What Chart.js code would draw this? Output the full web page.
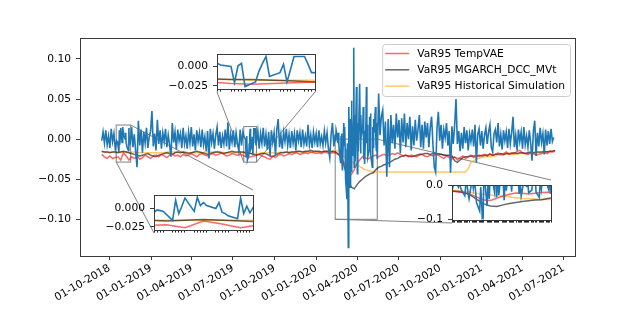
<!DOCTYPE html>
<html>
<head>
<meta charset="utf-8">
<title>VaR95 backtest</title>
<script src="https://cdn.jsdelivr.net/npm/chart.js@4.4.0/dist/chart.umd.min.js"></script>
<style>
  html, body { margin: 0; padding: 0; background: #fff; }
  #wrap { position: relative; width: 640px; height: 320px; overflow: hidden; }
  #wrap canvas { position: absolute; }
</style>
</head>
<body>
<div id="wrap">
  <canvas id="mainChart" width="640" height="320" style="left:0;top:0"></canvas>
</div>
<script>
// ==============================================================================
// 1. DATA (returns and VaR levels are in units of 1/1000)
// ==============================================================================
const retStart = '2018-09-14';
const retStepDays = 3;
const returns = [
  -2, 9, -5, 11, -7, 4, -11, 13, -3, 7,
  -12, 2, -14, 11, 5, -9, 14, -4, 8, -13,
  10, -6, 15, -10, 6, -15, -35, 23, -8, 12,
  -17, 9, -5, 14, -11, 3, 10, 35, -9, 7,
  -14, 24, -6, 11, -12, 8, -3, 13, -10, 5,
  -7, -22, 20, -4, 9, -13, 12, -2, 7, -11,
  14, -6, 4, -12, 9, -5, 15, -9, 6, -14,
  11, -3, 8, -10, 12, -7, 3, -15, 10, -24,
  13, -4, 7, -12, 5, 15, -8, 9, -11, 4,
  -6, 12, -9, 21, -13, 6, -4, 11, -10, 8,
  -5, -15, 12, -8, 9, 2, -20, 4, -26, -6,
  13, -8, -20, 13, -8, 10, -12, 7, -5, 14,
  -9, 6, -13, 9, -21, 11, -4, 8, -20, 12,
  25, -10, 5, -12, 9, -3, 13, -8, 6, -11,
  10, -5, 7, -14, 11, -2, 8, -10, 12, -6,
  4, -9, 18, -7, 5, -11, 9, -4, 7, -10,
  11, -6, 3, -8, 10, -5, 8, -12, -23, 6,
  20, -9, 10, -14, 7, -39, 20, -75, -135, 40,
  -60, 48, 114, -35, 65, -43, 69, -18, 40, -31,
  65, -14, 32, -35, 40, -14, 30, -20, 25, -30,
  35, -10, 20, -25, 57, 5, 28, 36, -8, 22,
  -47, 25, -35, 30, -5, 18, -12, 32, 2, 24,
  -18, 26, -4, 32, -10, 20, 0, 28, -14, 16,
  -8, 24, -2, 12, 30, -10, 18, -12, 22, 2,
  20, -10, 14, 28, -6, -35, -41, 14, 34, -2,
  18, -12, 12, 2, 20, -8, 10, -42, 16, -6,
  18, 50, -6, 10, -15, 8, -12, 15, -5, 11,
  -14, 7, -3, 12, -9, 18, -29, 6, 13, -8,
  10, -12, 5, 14, -6, 9, 18, -10, -16, 7,
  12, -4, 20, -9, 6, -13, 11, -2, 9, -11,
  13, -6, 8, 28, -10, 5, -14, 12, -3, 9,
  -12, 15, -7, 4, -10, 11, -5, -27, 10, 23,
  -21, 8, -9, 14, -4, 7, -19, 12, -8, 10,
  -6, 13, -3, 2
];

// daily (business day) returns inside the three zoomed windows
const zoomAStart = '2018-10-17';
const zoomAReturns = [-2, -3, -4, -16, 11, -7, 3, 14, -4, 15, 4, 8, 4, 0, 8, -5, -7, -10, -14, 14, -7, 3];
const zoomBStart = '2019-07-26';
const zoomBReturns = [2, 0, -21, 1, 4, -26, -20, -6, 4, 13, -13, -8, 3, -20, -4, 13, 13, 3, -8];
const zoomCStart = '2020-02-12';
const zoomCReturns = [
  6, -3, 11, 2, -5, 8, -6, -14, -30, 4, 7, -22, -39,
  20, -8, 15, -12, -50, -75, -5, -62, -135, 40,
  -60, 25, -40, 48, 30, -20, 114, -35, 30, -28, 65, 12,
  -43, 20, -15, 69, 25, -18, 30, 5, 15, 40, -25, 10, -31,
  22, 65, -5, 18, -22, -14, 28, 12, 32,
  -20, -35, 15, -10, 25, 8, 40, -5, -14, 20, -25
];

const varStart = '2018-09-14';
const varStepDays = 6;
const varTempVAE = [
  -19, -22, -24, -21, -24, -23, -22, -26, -17, -21,
  -26, -22, -24, -21, -25, -23, -20, -22, -24, -21,
  -20, -22, -19, -21, -23, -20, -19, -21, -20, -22,
  -19, -21, -20, -18, -20, -22, -19, -18, -20, -21,
  -19, -18, -20, -19, -17, -19, -21, -20, -18, -19,
  -20, -19, -20, -22, -23, -22, -21, -20, -19, -21,
  -22, -24, -25, -21, -23, -20, -19, -21, -20, -18,
  -19, -18, -17, -19, -18, -17, -18, -16, -17, -18,
  -17, -18, -16, -17, -18, -17, -17, -19, -21, -27,
  -35, -43, -44, -38, -31, -26, -22, -23, -25, -23,
  -21, -20, -22, -20, -19, -21, -20, -18, -19, -17,
  -19, -21, -20, -22, -20, -21, -22, -20, -19, -21,
  -22, -20, -21, -19, -20, -22, -24, -21, -23, -25,
  -22, -26, -23, -21, -24, -22, -20, -23, -21, -22,
  -20, -19, -21, -18, -20, -19, -17, -19, -18, -16,
  -19, -17, -18, -15, -14, -17, -18, -19, -17, -18,
  -20, -19, -18, -17, -18, -16, -16, -15
];
const varMGARCH = [
  -15, -16, -16, -17, -16, -16, -17, -16, -15, -16,
  -17, -18, -19, -20, -21, -20, -19, -18, -20, -21,
  -22, -20, -19, -18, -17, -18, -19, -17, -16, -17,
  -16, -17, -18, -17, -16, -15, -16, -17, -18, -19,
  -18, -17, -16, -16, -17, -18, -17, -16, -15, -16,
  -16, -16, -16, -17, -17, -18, -19, -20, -19, -18,
  -18, -19, -21, -22, -20, -18, -17, -17, -16, -17,
  -16, -16, -15, -15, -16, -15, -15, -14, -15, -15,
  -15, -16, -15, -15, -16, -15, -16, -18, -22, -30,
  -42, -54, -60, -62, -57, -53, -50, -47, -45, -43,
  -42, -38, -35, -34, -32, -31, -29, -27, -25, -24,
  -22, -21, -20, -21, -22, -21, -20, -19, -19, -18,
  -18, -19, -18, -18, -19, -19, -20, -20, -20, -21,
  -27, -29, -26, -23, -22, -22, -21, -21, -21, -20,
  -21, -20, -20, -19, -20, -19, -19, -18, -19, -18,
  -18, -18, -17, -18, -17, -17, -18, -17, -16, -17,
  -16, -16, -16, -15, -16, -15, -15, -14
];
const varHistSim = [
  -16, -16, -16, -16, -16, -16, -16, -16, -16, -16,
  -16, -16, -16, -17, -17, -17, -17, -17, -17, -17,
  -17, -17, -17, -17, -16, -16, -16, -16, -16, -16,
  -16, -16, -17, -17, -17, -17, -17, -17, -16, -16,
  -16, -16, -16, -16, -16, -17, -17, -17, -17, -17,
  -17, -17, -17, -17, -18, -18, -18, -18, -18, -17,
  -17, -17, -17, -17, -17, -17, -16, -16, -16, -16,
  -16, -16, -16, -16, -16, -16, -16, -16, -16, -16,
  -16, -16, -15, -15, -15, -15, -14, -15, -18, -21,
  -24, -26, -28, -30, -32, -34, -36, -38, -39, -40,
  -41, -41, -41, -41, -41, -41, -41, -41, -41, -41,
  -41, -41, -41, -41, -41, -41, -41, -41, -41, -41,
  -41, -41, -41, -41, -41, -41, -41, -41, -41, -41,
  -41, -41, -41, -41, -41, -37, -29, -27, -25, -24,
  -23, -22, -22, -22, -21, -21, -20, -20, -20, -19,
  -19, -19, -19, -19, -18, -18, -18, -18, -18, -18,
  -17, -17, -17, -16, -16, -15, -15, -14
];

const seriesLabels = ['VaR95 TempVAE', 'VaR95 MGARCH_DCC_MVt', 'VaR95 Historical Simulation'];
const xTickDates = ['2018-10-01', '2019-01-01', '2019-04-01', '2019-07-01', '2019-10-01', '2020-01-01',
                    '2020-04-01', '2020-07-01', '2020-10-01', '2021-01-01', '2021-04-01', '2021-07-01'];
const yTicks = [0.10, 0.05, 0, -0.05, -0.10];
const xLimits = ['2018-07-28', '2021-07-26'];
const yLimits = [-0.1458, 0.1262];

// zoom windows: date range and value range shown in each inset
const insetARange = ['2018-10-16', '2018-11-17'];
const insetAYLim = [-0.0286, 0.0176];
const insetBRange = ['2019-07-25', '2019-08-22'];
const insetBYLim = [-0.0287, 0.0157];
const insetCRange = ['2020-02-12', '2020-05-15'];
const insetCYLim = [-0.1, 0];
const insetSmallTicks = [0, -0.025];
const insetCTicks = [0, -0.1];

// ==============================================================================
// 2. HELPERS
// ==============================================================================
const DAY = 86400000;
const FONT_FAMILY = 'DejaVu Sans';
const FONT_SIZE = 10.7;
const colReturn = '#1f77b4';
const colVar = ['rgba(255,0,0,0.6)', 'rgba(0,0,0,0.6)', 'rgba(255,165,0,0.6)'];
const spineColor = '#3a3a3a';
const markColor = '#808080';

Chart.defaults.font.family = FONT_FAMILY;
Chart.defaults.font.size = FONT_SIZE;
Chart.defaults.color = '#000';
Chart.defaults.animation = false;

function dayNum(s) {
    const [y, m, d] = s.split('-').map(Number);
    return Date.UTC(y, m - 1, d) / DAY;
}
function pad2(n) { return (n < 10 ? '0' : '') + n; }
function fmtDay(v) {
    const d = new Date(Math.round(v) * DAY);
    return pad2(d.getUTCDate()) + '-' + pad2(d.getUTCMonth() + 1) + '-' + d.getUTCFullYear();
}
function fmtNum(v, dec) {
    if (Math.abs(v) < 1e-12) v = 0;
    return (v < 0 ? '\u2212' : '') + Math.abs(v).toFixed(dec);
}
function isWeekday(d) {
    const wd = new Date(d * DAY).getUTCDay();
    return wd !== 0 && wd !== 6;
}
function businessDays(start, n) {
    const out = [];
    for (let d = dayNum(start); out.length < n; d++) if (isWeekday(d)) out.push(d);
    return out;
}
function businessDaysBetween(a, b) {
    const out = [];
    for (let d = dayNum(a); d <= dayNum(b); d++) if (isWeekday(d)) out.push(d);
    return out;
}
function regular(start, step, vals) {
    const d0 = dayNum(start);
    return vals.map((v, i) => ({ x: d0 + i * step, y: v / 1000 }));
}

// returns: coarse grid, replaced by daily values inside the zoom windows
const detailWindows = [[zoomAStart, zoomAReturns], [zoomBStart, zoomBReturns], [zoomCStart, zoomCReturns]]
    .map(([s, vals]) => businessDays(s, vals.length).map((d, i) => ({ x: d, y: vals[i] / 1000 })));
let retPoints = regular(retStart, retStepDays, returns)
    .filter(p => !detailWindows.some(w => p.x >= w[0].x && p.x <= w[w.length - 1].x));
detailWindows.forEach(w => { retPoints = retPoints.concat(w); });
retPoints.sort((a, b) => a.x - b.x);

const varSeries = [varTempVAE, varMGARCH, varHistSim].map(v => regular(varStart, varStepDays, v));

function sliceRange(pts, r) {
    const lo = dayNum(r[0]), hi = dayNum(r[1]);
    let i0 = pts.findIndex(p => p.x >= lo);
    let i1 = pts.findIndex(p => p.x > hi);
    if (i0 < 0) i0 = pts.length;
    if (i1 < 0) i1 = pts.length - 1;
    return pts.slice(Math.max(0, i0 - 1), i1 + 1).map(p => ({ x: p.x, y: p.y }));
}

function makeDatasets(range) {
    const sets = [{ data: sliceRange(retPoints, range), borderColor: colReturn, borderWidth: 1.6 }];
    varSeries.forEach((s, k) => sets.push({
        label: seriesLabels[k], data: sliceRange(s, range), borderColor: colVar[k], borderWidth: 1.5
    }));
    return sets.map(ds => Object.assign(ds, { pointRadius: 0, tension: 0, fill: false }));
}

// ==============================================================================
// 3. PLUGINS (spines, legend, inset marks)
// ==============================================================================
function framePlugin(fillWhite) {
    return {
        id: 'frame',
        beforeDatasetsDraw(chart) {
            if (!fillWhite) return;
            const a = chart.chartArea;
            chart.ctx.save();
            chart.ctx.fillStyle = '#fff';
            chart.ctx.fillRect(a.left, a.top, a.right - a.left, a.bottom - a.top);
            chart.ctx.restore();
        },
        afterDatasetsDraw(chart) {
            const a = chart.chartArea, ctx = chart.ctx;
            ctx.save();
            ctx.strokeStyle = spineColor;
            ctx.lineWidth = 1;
            const l = Math.round(a.left) + 0.5, t = Math.round(a.top) + 0.5;
            ctx.strokeRect(l, t, Math.round(a.right) - Math.round(a.left), Math.round(a.bottom) - Math.round(a.top));
            ctx.restore();
        }
    };
}

const legendPlugin = {
    id: 'mplLegend',
    afterDraw(chart) {
        const ctx = chart.ctx, a = chart.chartArea;
        const items = chart.data.datasets.filter(ds => ds.label);
        ctx.save();
        ctx.font = FONT_SIZE + 'px "' + FONT_FAMILY + '"';
        const textW = Math.max(...items.map(ds => ctx.measureText(ds.label).width));
        const w = 35 + textW + 5, h = 52;
        const x0 = a.right - 5 - w, y0 = a.top + 6;
        ctx.beginPath();
        ctx.roundRect(x0 + 0.5, y0 + 0.5, w, h, 3);
        ctx.fillStyle = 'rgba(255,255,255,0.8)';
        ctx.fill();
        ctx.strokeStyle = '#cccccc';
        ctx.lineWidth = 1;
        ctx.stroke();
        ctx.textBaseline = 'middle';
        ctx.textAlign = 'left';
        items.forEach((ds, k) => {
            const yy = y0 + 9.5 + k * 16.3;
            ctx.beginPath();
            ctx.moveTo(x0 + 3, yy);
            ctx.lineTo(x0 + 27, yy);
            ctx.strokeStyle = ds.borderColor;
            ctx.lineWidth = ds.borderWidth;
            ctx.stroke();
            ctx.fillStyle = '#000';
            ctx.fillText(ds.label, x0 + 35, yy + 0.5);
        });
        ctx.restore();
    }
};

// inset definitions; box = inset axes area in page pixels
const insets = [
    { range: insetARange, ylim: insetAYLim, ticks: insetSmallTicks, dec: 3, box: [154, 190, 253, 233], corners: ['tr', 'bl'] },
    { range: insetBRange, ylim: insetBYLim, ticks: insetSmallTicks, dec: 3, box: [217, 49, 315, 92], corners: ['bl', 'br'] },
    { range: insetCRange, ylim: insetCYLim, ticks: insetCTicks, dec: 1, box: [452, 180, 551, 223], corners: ['tr', 'bl'] }
];

const insetMarkPlugin = {
    id: 'insetMarks',
    beforeDatasetsDraw(chart) {
        const ctx = chart.ctx, xs = chart.scales.x, ys = chart.scales.y;
        ctx.save();
        ctx.strokeStyle = markColor;
        ctx.lineWidth = 1;
        insets.forEach(ins => {
            const r = {
                l: xs.getPixelForValue(dayNum(ins.range[0])), r: xs.getPixelForValue(dayNum(ins.range[1])),
                t: ys.getPixelForValue(ins.ylim[1]), b: ys.getPixelForValue(ins.ylim[0])
            };
            ctx.strokeRect(r.l, r.t, r.r - r.l, r.b - r.t);
            ins.corners.forEach(c => {
                const px = c[1] === 'l' ? r.l : r.r, py = c[0] === 't' ? r.t : r.b;
                const qx = c[1] === 'l' ? ins.box[0] : ins.box[2], qy = c[0] === 't' ? ins.box[1] : ins.box[3];
                ctx.beginPath();
                ctx.moveTo(px, py);
                ctx.lineTo(qx, qy);
                ctx.stroke();
            });
        });
        ctx.restore();
    }
};

// ==============================================================================
// 4. CHARTS
// ==============================================================================
const mainChart = new Chart(document.getElementById('mainChart'), {
    type: 'line',
    data: { datasets: makeDatasets(xLimits) },
    options: {
        responsive: false,
        devicePixelRatio: 1,
        events: [],
        layout: { padding: { top: 38, right: 65, left: 0, bottom: 0 } },
        plugins: { legend: { display: false }, tooltip: { enabled: false } },
        scales: {
            x: {
                type: 'linear', bounds: 'data',
                min: dayNum(xLimits[0]), max: dayNum(xLimits[1]),
                afterFit: s => { s.height = 64; },
                afterBuildTicks: s => { s.ticks = xTickDates.map(d => ({ value: dayNum(d) })); },
                ticks: { callback: v => fmtDay(v), minRotation: 30, maxRotation: 30, autoSkip: false, padding: 2 },
                grid: { drawOnChartArea: false, tickLength: 4, tickColor: spineColor },
                border: { display: false }
            },
            y: {
                type: 'linear', bounds: 'data',
                min: yLimits[0], max: yLimits[1],
                afterFit: s => { s.width = 80; },
                afterBuildTicks: s => { s.ticks = yTicks.map(v => ({ value: v })); },
                ticks: { callback: v => fmtNum(v, 2), padding: 5 },
                grid: { drawOnChartArea: false, tickLength: 4, tickColor: spineColor },
                border: { display: false }
            }
        }
    },
    plugins: [framePlugin(false), insetMarkPlugin, legendPlugin]
});

function makeInset(ins) {
    const padL = 52, padT = 6, padR = 4, padB = 8;
    const [bx0, by0, bx1, by1] = ins.box;
    const cv = document.createElement('canvas');
    cv.width = (bx1 - bx0) + padL + padR;
    cv.height = (by1 - by0) + padT + padB;
    cv.style.left = (bx0 - padL) + 'px';
    cv.style.top = (by0 - padT) + 'px';
    document.getElementById('wrap').appendChild(cv);
    const tickDays = businessDaysBetween(ins.range[0], ins.range[1]);
    return new Chart(cv, {
        type: 'line',
        data: { datasets: makeDatasets(ins.range) },
        options: {
            responsive: false,
            devicePixelRatio: 1,
            events: [],
            layout: { padding: { top: padT, right: padR, left: 0, bottom: 0 } },
            plugins: { legend: { display: false }, tooltip: { enabled: false } },
            scales: {
                x: {
                    type: 'linear', bounds: 'data',
                    min: dayNum(ins.range[0]), max: dayNum(ins.range[1]),
                    afterFit: s => { s.height = padB; },
                    afterBuildTicks: s => { s.ticks = tickDays.map(v => ({ value: v })); },
                    ticks: { callback: () => '', autoSkip: false, minRotation: 0, maxRotation: 0, padding: 0 },
                    grid: { drawOnChartArea: false, tickLength: 3, tickColor: '#222' },
                    border: { display: false }
                },
                y: {
                    type: 'linear', bounds: 'data',
                    min: ins.ylim[0], max: ins.ylim[1],
                    afterFit: s => { s.width = padL; },
                    afterBuildTicks: s => { s.ticks = ins.ticks.map(v => ({ value: v })); },
                    ticks: { callback: v => fmtNum(v, ins.dec), padding: 5 },
                    grid: { drawOnChartArea: false, tickLength: 4, tickColor: spineColor },
                    border: { display: false }
                }
            }
        },
        plugins: [framePlugin(true)]
    });
}

const insetCharts = insets.map(makeInset);
</script>
</body>
</html>
